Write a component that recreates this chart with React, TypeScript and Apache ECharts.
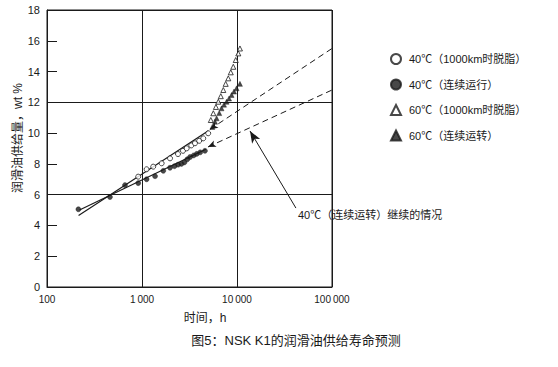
import React, { useEffect, useRef } from "react";
import * as echarts from "echarts";

const xTicks = [100, 1000, 10000, 100000];
const yTicks = [0, 2, 4, 6, 8, 10, 12, 14, 16, 18];

const seriesNames = [
  "40℃（1000km时脱脂）",
  "40℃（连续运行）",
  "60℃（1000km时脱脂）",
  "60℃（连续运转）",
];

const openCircles = [
  [912, 7.17], [1118, 7.65], [1312, 7.82], [1610, 8.04], [1972, 8.36], [2393, 8.64],
  [2700, 8.85], [2955, 9.01], [3300, 9.2], [3610, 9.34], [4000, 9.5], [4412, 9.66], [4975, 9.99],
];
const filledCircles = [
  [214, 5.05], [460, 5.85], [662, 6.62], [912, 6.75], [1118, 7.0], [1372, 7.2], [1675, 7.55],
  [1972, 7.75], [2200, 7.85], [2400, 7.95], [2600, 8.0], [2800, 8.1], [3000, 8.3], [3210, 8.45],
  [3500, 8.55], [3770, 8.65], [4100, 8.75], [4600, 8.85],
];
const openTriangles = [
  [5300, 10.85], [5634, 11.29], [6000, 11.7], [6358, 12.04], [6750, 12.4], [7178, 12.8],
  [7600, 13.2], [8098, 13.56], [8600, 13.95], [9141, 14.31], [9700, 14.75], [10320, 15.18], [10740, 15.5],
];
const filledTriangles = [
  [5500, 10.4], [5866, 10.74], [6100, 10.96], [6500, 11.3], [6870, 11.61], [7300, 11.85],
  [7768, 12.04], [8250, 12.25], [8770, 12.48], [9300, 12.7], [9900, 12.91], [10740, 13.2],
];

const fitUpper = [[215, 4.65], [5000, 10.15]];
const fitLower = [[220, 5.0], [4700, 8.95]];
const extUpper = [[5200, 10.25], [100000, 15.5]];
const extLower = [[4950, 9.1], [100000, 12.8]];
const annotationArrow = [[41700, 5.13], [13700, 10.14]];
const annotationText = "40℃（连续运转）继续的情况";

const FONT = "'Liberation Sans', 'Noto Sans CJK SC', sans-serif";
const INK = "#1a1a1a";

export default function App() {
  const ref = useRef<HTMLDivElement>(null);
  useEffect(() => {
    document.body.style.margin = "0";
    if (!ref.current) return;
    const chart = echarts.init(ref.current, undefined, { renderer: "svg" });
    const scatterBase = (name: string, data: number[][], symbol: string, filled: boolean) => ({
      name,
      type: "scatter",
      data,
      symbol,
      symbolSize: 5,
      itemStyle: filled
        ? { color: INK, borderColor: INK, borderWidth: 0.5 }
        : { color: "#fff", borderColor: INK, borderWidth: 1 },
      z: 5,
    });
    const lineSeries = (data: number[][], dashed: boolean) => ({
      type: "line",
      data,
      symbol: "none",
      lineStyle: { color: INK, width: 1.2, type: dashed ? [6, 4] : "solid" },
      silent: true,
    });
    const arrowLine = (pts: number[][], startArrow: boolean, dashed: boolean, size: any) => ({
      type: "line",
      data: [],
      markLine: {
        silent: true,
        symbol: startArrow ? ["arrow", "none"] : ["none", "arrow"],
        symbolSize: size,
        label: { show: false },
        lineStyle: { color: INK, width: 1, type: dashed ? [6, 4] : "solid" },
        data: [[{ coord: pts[0] }, { coord: pts[1] }]],
      },
    });
    chart.setOption({
      animation: false,
      backgroundColor: "#fff",
      textStyle: { fontFamily: FONT },
      grid: {
        left: 47, right: 226, top: 10, bottom: 80,
        show: true, borderColor: INK, borderWidth: 1,
      },
      legend: {
        orient: "vertical",
        left: 385,
        top: 47,
        itemWidth: 10,
        itemHeight: 10,
        itemGap: 11.5,
        data: seriesNames,
        textStyle: { fontSize: 11, color: INK, fontFamily: FONT, lineHeight: 14, padding: [0, 0, 0, 3] },
      },
      xAxis: {
        type: "log",
        logBase: 10,
        min: xTicks[0],
        max: xTicks[xTicks.length - 1],
        axisLine: { show: true, lineStyle: { color: INK } },
        axisTick: { show: false },
        splitLine: { show: true, lineStyle: { color: INK, width: 1 } },
        minorTick: { show: false },
        axisLabel: {
          color: INK,
          fontSize: 10,
          margin: 7,
          formatter: (v: number) =>
            String(Math.round(v)).replace(/\B(?=(\d{3})+(?!\d))/g, "\u2009"),
        },
      },
      yAxis: [
        {
          type: "value",
          min: yTicks[0],
          max: yTicks[yTicks.length - 1],
          interval: 2,
          axisLine: { show: true, lineStyle: { color: INK } },
          axisTick: { show: true, inside: true, length: 10, lineStyle: { color: INK } },
          splitLine: { show: false },
          axisLabel: { color: INK, fontSize: 11, margin: 7 },
        },
        {
          type: "value",
          min: 0,
          max: 18,
          interval: 6,
          position: "left",
          axisLine: { show: false },
          axisTick: { show: false },
          axisLabel: { show: false },
          splitLine: { show: true, lineStyle: { color: INK, width: 1 } },
        },
      ],
      graphic: [
        {
          type: "text",
          x: 18,
          y: 138,
          rotation: Math.PI / 2,
          style: {
            text: "润滑油供给量，wt %",
            fontSize: 12,
            fill: INK,
            fontFamily: FONT,
            align: "center",
            verticalAlign: "middle",
          },
        },
        {
          type: "text",
          x: 205,
          y: 318,
          style: {
            text: "时间，h",
            fontSize: 12,
            fill: INK,
            fontFamily: FONT,
            align: "center",
            verticalAlign: "middle",
          },
        },
        {
          type: "text",
          x: 296,
          y: 340,
          style: {
            text: "图5：NSK K1的润滑油供给寿命预测",
            fontSize: 13,
            fill: INK,
            fontFamily: FONT,
            align: "center",
            verticalAlign: "middle",
          },
        },
        {
          type: "text",
          x: 298,
          y: 215,
          style: {
            text: annotationText,
            fontSize: 11,
            fill: INK,
            fontFamily: FONT,
            align: "left",
            verticalAlign: "middle",
          },
        },
      ],
      series: [
        scatterBase(seriesNames[0], openCircles, "circle", false),
        scatterBase(seriesNames[1], filledCircles, "circle", true),
        scatterBase(seriesNames[2], openTriangles, "triangle", false),
        scatterBase(seriesNames[3], filledTriangles, "triangle", true),
        lineSeries(fitUpper, false),
        lineSeries(fitLower, false),
        arrowLine(extUpper, true, true, [5, 8]),
        arrowLine(extLower, true, true, [5, 8]),
        arrowLine(annotationArrow, false, false, [7, 12]),
      ],
    });
    return () => chart.dispose();
  }, []);
  return <div ref={ref} style={{ width: 558, height: 367 }} />;
}
